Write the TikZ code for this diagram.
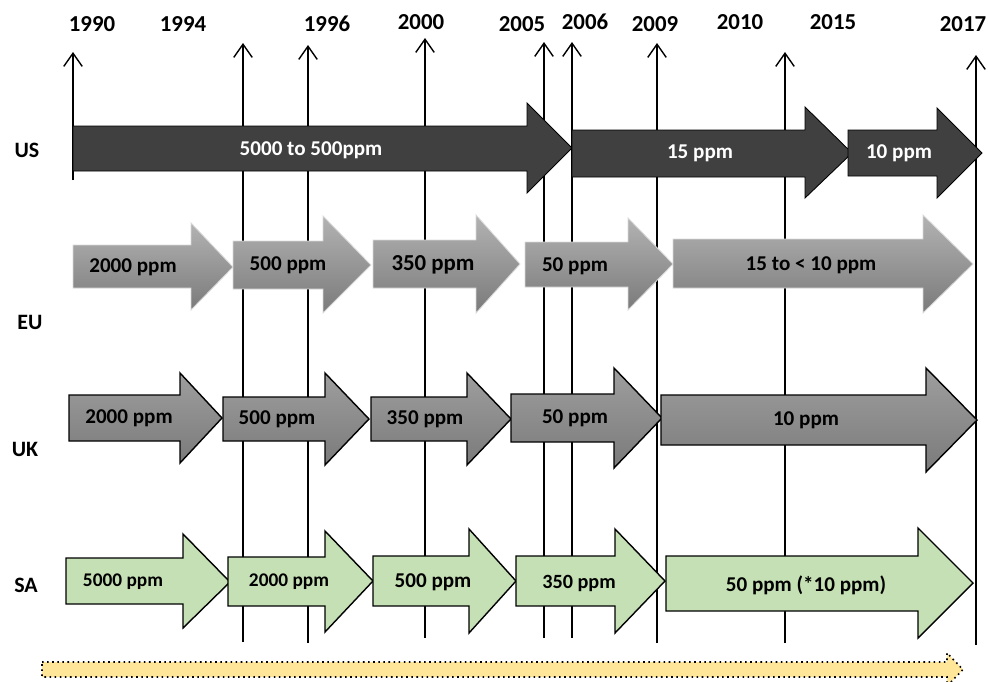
\documentclass[tikz,border=0pt]{standalone}
\usepackage{fontspec}
\setmainfont{Carlito}
\usetikzlibrary{arrows.meta}
\definecolor{usdark}{HTML}{404040}
\definecolor{sagreen}{HTML}{C5E0B4}
\definecolor{trendyellow}{HTML}{FFE699}
\tikzset{
  yearline/.style={line width=0.8pt,-{Straight Barb[length=7.5pt,width=10.5pt]}},
  yearlabel/.style={font=\fontsize{13}{15}\selectfont\bfseries},
  rowlabel/.style={font=\fontsize{12.5}{15}\selectfont\bfseries},
  ppm/.style={font=\fontsize{12}{14}\selectfont\bfseries},
  usarrow/.style={fill=usdark,draw=black,line width=0.5pt},
  euarrow/.style={top color=black!30,bottom color=black!52,draw=black!15,line width=0.5pt},
  ukarrow/.style={top color=black!38,bottom color=black!52,draw=black,line width=0.8pt},
  saarrow/.style={fill=sagreen,draw=black,line width=0.8pt},
  trendarrow/.style={fill=trendyellow,draw=black,dotted,line width=0.9pt}
}
\begin{document}
\begin{tikzpicture}[x=0.02cm,y=-0.02cm]
\useasboundingbox (0,0) rectangle (988,681);
% year labels
\node[yearlabel] (y1990) at (92,24) {1990};
\node[yearlabel] (y1994) at (183,24) {1994};
\node[yearlabel] (y1996) at (327,24) {1996};
\node[yearlabel] (y2000) at (421,22) {2000};
\node[yearlabel] (y2005) at (522,24) {2005};
\node[yearlabel] (y2006) at (585,22) {2006};
\node[yearlabel] (y2009) at (655,24) {2009};
\node[yearlabel] (y2010) at (740,22) {2010};
\node[yearlabel] (y2015) at (833,22) {2015};
\node[yearlabel] (y2017) at (963,24) {2017};
% time lines
\coordinate (b1) at (73,180);  \coordinate (t1) at (73,52);
\coordinate (b2) at (243,642); \coordinate (t2) at (243,43);
\coordinate (b3) at (308,643); \coordinate (t3) at (308,45);
\coordinate (b4) at (425,638); \coordinate (t4) at (425,38);
\coordinate (b5) at (544,638); \coordinate (t5) at (544,42);
\coordinate (b6) at (572,638); \coordinate (t6) at (572,42);
\coordinate (b7) at (657,643); \coordinate (t7) at (657,43);
\coordinate (b8) at (785,643); \coordinate (t8) at (785,52);
\coordinate (b9) at (976,645); \coordinate (t9) at (976,55);
\draw[yearline] (b1)--(t1);
\draw[yearline] (b2)--(t2);
\draw[yearline] (b3)--(t3);
\draw[yearline] (b4)--(t4);
\draw[yearline] (b5)--(t5);
\draw[yearline] (b6)--(t6);
\draw[yearline] (b7)--(t7);
\draw[yearline] (b8)--(t8);
\draw[yearline] (b9)--(t9);
% row labels
\node[rowlabel] (us) at (27,150) {US};
\node[rowlabel] (eu) at (30,322) {EU};
\node[rowlabel] (uk) at (25,449) {UK};
\node[rowlabel] (sa) at (26,585) {SA};
% US
\draw[usarrow] (73,126)--(527,126)--(527,103)--(572,148)--(527,193)--(527,171)--(73,171)--cycle;
\draw[usarrow] (572,130)--(805,130)--(805,107)--(852,153)--(805,198)--(805,177)--(572,177)--cycle;
\draw[usarrow] (848,130)--(937,130)--(937,108)--(982,153)--(937,198)--(937,176)--(848,176)--cycle;
\node[ppm,text=white] (us1) at (311,150) {5000 to 500ppm};
\node[ppm,text=white] (us2) at (700,153) {15 ppm};
\node[ppm,text=white] (us3) at (899,153) {10 ppm};
% EU
\draw[euarrow] (73,245)--(191,245)--(191,223)--(233,267)--(191,310)--(191,288)--(73,288)--cycle;
\draw[euarrow] (233,241)--(323,241)--(323,216)--(371,265)--(323,313)--(323,289)--(233,289)--cycle;
\draw[euarrow] (373,240)--(476,240)--(476,215)--(520,264)--(476,313)--(476,288)--(373,288)--cycle;
\draw[euarrow] (525,242)--(628,242)--(628,218)--(673,264)--(628,310)--(628,287)--(525,287)--cycle;
\draw[euarrow] (673,239)--(923,239)--(923,215)--(973,264)--(923,313)--(923,288)--(673,288)--cycle;
\node[ppm] (eu1) at (133,267) {2000 ppm};
\node[ppm] (eu2) at (288,265) {500 ppm};
\node[ppm,font=\fontsize{13}{15}\selectfont\bfseries] (eu3) at (433,265) {350 ppm};
\node[ppm] (eu4) at (575,266) {50 ppm};
\node[ppm] (eu5) at (811,265) {15 to < 10 ppm};
% UK
\draw[ukarrow] (69,395)--(180,395)--(180,373)--(222,418)--(180,463)--(180,441)--(69,441)--cycle;
\draw[ukarrow] (223,397)--(325,397)--(325,373)--(369,419)--(325,465)--(325,441)--(223,441)--cycle;
\draw[ukarrow] (371,397)--(467,397)--(467,373)--(511,419)--(467,465)--(467,441)--(371,441)--cycle;
\draw[ukarrow] (511,394)--(614,394)--(614,368)--(662,418)--(614,468)--(614,442)--(511,442)--cycle;
\draw[ukarrow] (661,395)--(926,395)--(926,368)--(977,420)--(926,472)--(926,445)--(661,445)--cycle;
\node[ppm] (uk1) at (129,418) {2000 ppm};
\node[ppm] (uk2) at (277,419) {500 ppm};
\node[ppm] (uk3) at (425,419) {350 ppm};
\node[ppm] (uk4) at (575,418) {50 ppm};
\node[ppm] (uk5) at (806,420) {10 ppm};
% SA
\draw[saarrow] (66,558)--(183,558)--(183,534)--(230,582)--(183,628)--(183,604)--(66,604)--cycle;
\draw[saarrow] (228,557)--(325,557)--(325,531)--(373,581)--(325,632)--(325,606)--(228,606)--cycle;
\draw[saarrow] (373,556)--(469,556)--(469,529)--(516,581)--(469,633)--(469,606)--(373,606)--cycle;
\draw[saarrow] (516,556)--(615,556)--(615,529)--(665,581)--(615,633)--(615,606)--(516,606)--cycle;
\draw[saarrow] (666,556)--(918,556)--(918,528)--(973,583)--(918,638)--(918,611)--(666,611)--cycle;
\node[ppm,font=\fontsize{11}{13}\selectfont\bfseries] (sa1) at (123,582) {5000 ppm};
\node[ppm,font=\fontsize{11}{13}\selectfont\bfseries] (sa2) at (289,582) {2000 ppm};
\node[ppm] (sa3) at (433,582) {500 ppm};
\node[ppm,font=\fontsize{11.5}{13}\selectfont\bfseries] (sa4) at (579,583) {350 ppm};
\node[ppm] (sa5) at (806,585) {50 ppm (*10 ppm)};
% time direction
\draw[trendarrow] (42,662)--(947,662)--(947,653)--(963,669.5)--(947,686)--(947,677)--(42,677)--cycle;
\end{tikzpicture}
\end{document}
